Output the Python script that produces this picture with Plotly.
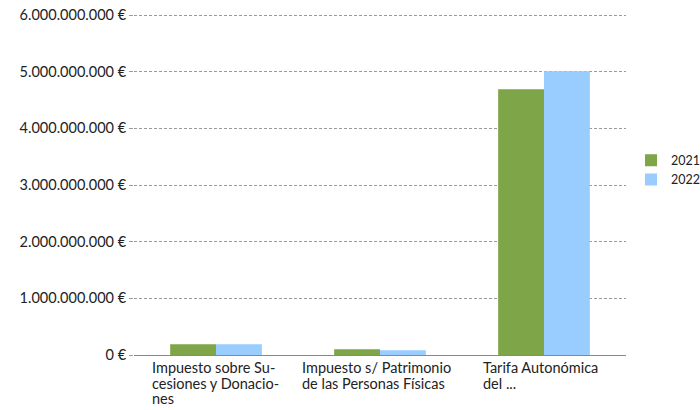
import plotly.graph_objects as go

categories = [
    "Impuesto sobre Sucesiones y Donaciones",
    "Impuesto s/ Patrimonio de las Personas Físicas",
    "Tarifa Autonómica del ...",
]
category_label_lines = [
    ["Impuesto sobre Su-", "cesiones y Donacio-", "nes"],
    ["Impuesto s/ Patrimonio", "de las Personas Físicas"],
    ["Tarifa Autonómica", "del ..."],
]
values_2021 = [190_000_000, 100_000_000, 4_690_000_000]
values_2022 = [190_000_000, 82_000_000, 5_010_000_000]
series_names = ["2021", "2022"]
tick_vals = [0, 1e9, 2e9, 3e9, 4e9, 5e9, 6e9]
tick_text = ["0 €", "1.000.000.000 €", "2.000.000.000 €", "3.000.000.000 €",
             "4.000.000.000 €", "5.000.000.000 €", "6.000.000.000 €"]

FONT = "Lato"
TXT = "#222222"
# layout: left offset of each wrapped label block from its category centre (px)
label_xshift = [-65, -79, -62]
line_step = 15.5

fig = go.Figure()
fig.add_trace(go.Bar(x=categories, y=values_2021, name=series_names[0],
                     marker=dict(color="#7EA548", line=dict(width=0))))
fig.add_trace(go.Bar(x=categories, y=values_2022, name=series_names[1],
                     marker=dict(color="#99CCFF", line=dict(width=0))))

for cat, lines, xs in zip(categories, category_label_lines, label_xshift):
    for i, line in enumerate(lines):
        fig.add_annotation(x=cat, y=0, xref="x", yref="y", text=line, showarrow=False,
                           xanchor="left", yanchor="top", align="left", borderpad=0,
                           xshift=xs, yshift=-3 - i * line_step,
                           font=dict(family=FONT, size=14.5, color=TXT))

fig.update_layout(
    width=700, height=410,
    margin=dict(l=134, r=74, t=14, b=55, autoexpand=False),
    paper_bgcolor="white", plot_bgcolor="white",
    barmode="group", bargap=0.441, bargroupgap=0,
    font=dict(family=FONT, size=14, color=TXT),
    legend=dict(x=1.0102, y=0.542, xanchor="left", yanchor="middle",
                font=dict(family=FONT, size=12.5, color=TXT), itemwidth=30,
                tracegroupgap=0),
    showlegend=True,
)
fig.update_xaxes(showticklabels=False, showgrid=False, zeroline=False,
                 showline=False, ticks="", automargin=False)
fig.update_yaxes(range=[0, 6.02e9], tickvals=tick_vals, ticktext=tick_text,
                 showgrid=True, gridcolor="#9a9a9a", griddash="3px,2px", gridwidth=1,
                 zeroline=True, zerolinecolor="#888888", zerolinewidth=1,
                 ticks="outside", ticklen=4, tickcolor="#9a9a9a", automargin=False,
                 tickfont=dict(family=FONT, size=14.5, color=TXT))

fig.write_html("out.html", config={"displayModeBar": False},
               post_script="document.body.style.margin='0px';")
